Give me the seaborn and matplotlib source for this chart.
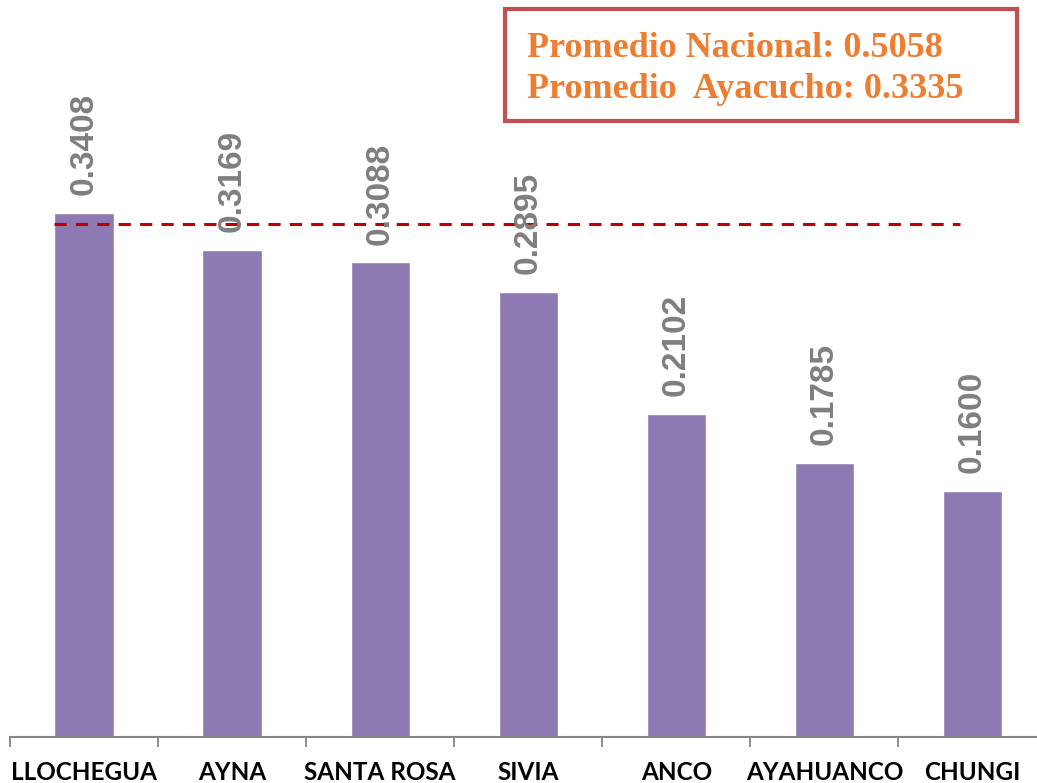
import numpy as np
import seaborn as sns
import matplotlib.pyplot as plt
from matplotlib.patches import Rectangle

# distritos y valores del indice
distritos = ['LLOCHEGUA', 'AYNA', 'SANTA ROSA', 'SIVIA', 'ANCO', 'AYAHUANCO', 'CHUNGI']
valores = [0.3408, 0.3169, 0.3088, 0.2895, 0.2102, 0.1785, 0.1600]
prom_nacional = 0.5058
prom_ayacucho = 0.3335

sns.set_theme(style='white')
plt.rcParams['font.family'] = ['Lato', 'DejaVu Sans']

W, H = 1037, 783
fig = plt.figure(figsize=(W / 100, H / 100), dpi=100)

# axes placed in pixels: baseline at y=737, one unit = 1537.6 px
ytop = 0.45
ax = fig.add_axes([10 / W, 46 / H, 1036.5 / W, ytop * 1537.6 / H])

sns.barplot(x=distritos, y=valores, color='#8E7AB2', saturation=1, width=0.4, ax=ax)
ax.set_xlim(-0.5, 6.5)
ax.set_ylim(0, ytop)

for i, v in enumerate(valores):
    ax.text(i, v + 0.0115, f'{v:.4f}', rotation=90, ha='center', va='bottom',
            fontsize=24, fontweight='bold', color='#7F7F7F',
            family=['Liberation Sans', 'DejaVu Sans'])

# linea del promedio regional
ax.hlines(prom_ayacucho, -0.206, 5.917, colors='#C00000', linewidth=2.2, linestyles=(0, (4, 3)))

for s in ['top', 'right', 'left']:
    ax.spines[s].set_visible(False)
ax.spines['bottom'].set_color('#868686')
ax.spines['bottom'].set_linewidth(1.5)
ax.set_yticks([])
ax.set_xlabel('')
ax.set_ylabel('')
ax.set_xticks(np.arange(-0.5, 6.5, 1), minor=True)
ax.tick_params(axis='x', which='major', length=0, pad=17, labelsize=17.5, labelcolor='black')
ax.tick_params(axis='x', which='minor', length=7, width=1.3, color='#868686', direction='out', bottom=True)
for lab in ax.get_xticklabels():
    lab.set_fontweight('bold')

# cuadro de promedios
fig.patches.append(Rectangle((505 / W, 1 - 121 / H), 512 / W, 112 / H, transform=fig.transFigure,
                             fill=False, edgecolor='#C0504D', linewidth=3))
fig.text(527 / W, 1 - 57 / H, f'Promedio Nacional: {prom_nacional:.4f}', fontsize=26,
         fontweight='bold', color='#ED7D31', family=['Liberation Serif', 'DejaVu Serif'], va='baseline')
fig.text(527 / W, 1 - 98 / H, f'Promedio  Ayacucho: {prom_ayacucho:.4f}', fontsize=26,
         fontweight='bold', color='#ED7D31', family=['Liberation Serif', 'DejaVu Serif'], va='baseline')

fig.savefig('out.png', dpi=100)
